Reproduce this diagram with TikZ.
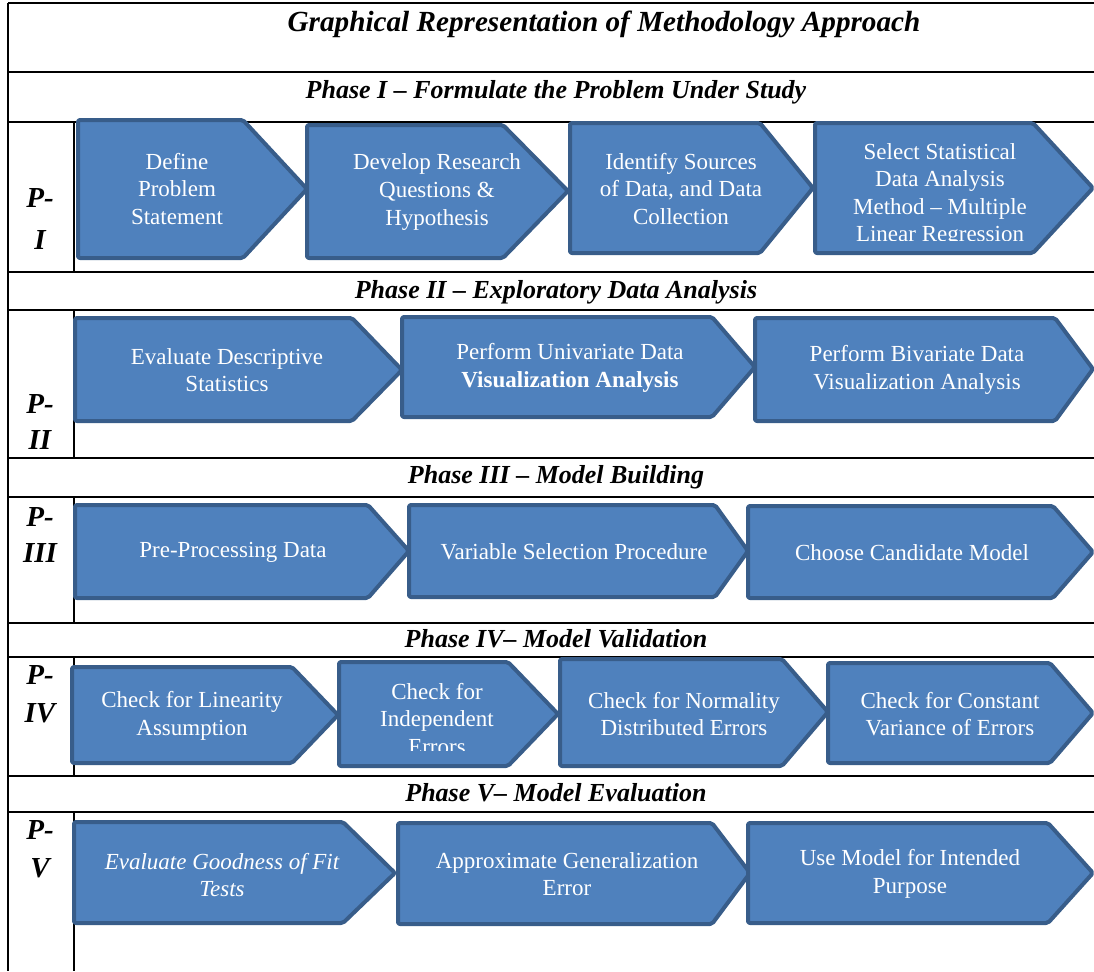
\documentclass[tikz,border=0pt]{standalone}
\usepackage{fontspec}
\setmainfont{Liberation Serif}
\definecolor{boxfill}{HTML}{4F81BD}
\definecolor{boxedge}{HTML}{385D8A}
\begin{document}
\begin{tikzpicture}[x=0.5pt, y=-0.5pt,
    chev/.style = {draw = boxedge, fill = boxfill, line width = 2pt, rounded corners = 1pt, line join = round},
    boxtext/.style = {text = white, align = center, inner sep = 0pt, font = \fontsize{11.5}{13.8}\selectfont},
    phase/.style = {anchor = base, inner sep = 0pt, font = \fontsize{13}{15}\selectfont\bfseries\itshape},
    plabel/.style = {align = center, inner sep = 0pt, font = \fontsize{14.5}{18}\selectfont\bfseries\itshape},
    rule/.style = {line width = 1.3pt}]
    \useasboundingbox (0,0) rectangle (1094,971);
    % table rules
    \begin{scope}[style = rule]
        \draw (8,3) -- (1094,3);
        \draw (8,3) -- (8,971);
        \foreach \y in {72,122,272,310,458,497,623,657,776,812}
            \draw (8,\y) -- (1094,\y);
        \draw (74,122) -- (74,272);
        \draw (74,310) -- (74,458);
        \draw (74,497) -- (74,623);
        \draw (74,657) -- (74,776);
        \draw (74,812) -- (74,971);
    \end{scope}
    % headings
    \node[phase, font = \fontsize{14.6}{17}\selectfont\bfseries\itshape] (title) at (604,31) {Graphical Representation of Methodology Approach};
    \node[phase] (h1) at (556,98) {Phase I -- Formulate the Problem Under Study};
    \node[phase] (h2) at (556,298) {Phase II -- Exploratory Data Analysis};
    \node[phase] (h3) at (556,483) {Phase III -- Model Building};
    \node[phase] (h4) at (556,647) {Phase IV-- Model Validation};
    \node[phase] (h5) at (556,801) {Phase V-- Model Evaluation};
    \node[plabel] (p1) at (40,219) {P-\\[3pt]I};
    \node[plabel] (p2) at (40,422) {P-\\II};
    \node[plabel] (p3) at (40,535) {P-\\III};
    \node[plabel] (p4) at (40,694) {P-\\[1pt]IV};
    \node[plabel] (p5) at (40,849) {P-\\[1pt]V};
    % phase I
    \draw[chev] (78,120) -- (243,120) -- (307,189) -- (243,258) -- (78,258) -- cycle;
    \draw[chev] (307,125) -- (503,125) -- (568,191) -- (503,258) -- (307,258) -- cycle;
    \draw[chev] (570,123) -- (760,123) -- (813,188) -- (760,253) -- (570,253) -- cycle;
    \draw[chev] (815,123) -- (1033,123) -- (1093,188) -- (1033,253) -- (815,253) -- cycle;
    \node[boxtext] (a1) at (177,189) {Define\\Problem\\Statement};
    \node[boxtext] (a2) at (437,192) {Develop Research\\Questions \&\\Hypothesis};
    \node[boxtext] (a3) at (681,189) {Identify Sources\\of Data, and Data\\Collection};
    \begin{scope}
        \clip (815,123) rectangle (1094,240);
        \node[boxtext] (a4) at (940,195) {Select Statistical\\Data Analysis\\Method -- Multiple\\Linear Regression};
    \end{scope}
    % phase II
    \draw[chev] (75,318) -- (352,318) -- (402,370) -- (352,421) -- (75,421) -- cycle;
    \draw[chev] (402,317) -- (712,317) -- (755,367) -- (712,417) -- (402,417) -- cycle;
    \draw[chev] (755,318) -- (1055,318) -- (1093,369) -- (1055,421) -- (755,421) -- cycle;
    \node[boxtext] (b1) at (227,370) {Evaluate Descriptive\\Statistics};
    \node[boxtext] (b2) at (570,368) {Perform Univariate Data\\\textbf{Visualization Analysis}};
    \node[boxtext] (b3) at (917,370) {Perform Bivariate Data\\Visualization Analysis};
    % phase III
    \draw[chev] (75,505) -- (368,505) -- (409,551) -- (368,598) -- (75,598) -- cycle;
    \draw[chev] (409,505) -- (715,505) -- (748,551) -- (715,597) -- (409,597) -- cycle;
    \draw[chev] (748,506) -- (1053,506) -- (1093,552) -- (1053,598) -- (748,598) -- cycle;
    \node[boxtext] (c1) at (233,552) {Pre-Processing Data};
    \node[boxtext] (c2) at (574,552) {Variable Selection Procedure};
    \node[boxtext] (c3) at (912,553) {Choose Candidate Model};
    % phase IV
    \draw[chev] (72,667) -- (292,667) -- (338,715) -- (292,763) -- (72,763) -- cycle;
    \draw[chev] (339,662) -- (508,662) -- (558,714) -- (508,766) -- (339,766) -- cycle;
    \draw[chev] (560,659) -- (782,659) -- (828,712) -- (782,766) -- (560,766) -- cycle;
    \draw[chev] (828,663) -- (1050,663) -- (1093,713) -- (1050,763) -- (828,763) -- cycle;
    \node[boxtext] (d1) at (192,716) {Check for Linearity\\Assumption};
    \begin{scope}
        \clip (339,662) rectangle (558,750);
        \node[boxtext] (d2) at (437,719) {Check for\\Independent\\Errors};
    \end{scope}
    \node[boxtext] (d3) at (684,714) {Check for Normality\\Distributed Errors};
    \node[boxtext] (d4) at (950,714) {Check for Constant\\Variance of Errors};
    % phase V
    \draw[chev] (74,822) -- (343,822) -- (395,873) -- (343,923) -- (74,923) -- cycle;
    \draw[chev] (398,823) -- (712,823) -- (750,873) -- (712,924) -- (398,924) -- cycle;
    \draw[chev] (748,823) -- (1048,823) -- (1093,873) -- (1048,923) -- (748,923) -- cycle;
    \node[boxtext, font = \fontsize{11.5}{13.8}\selectfont\itshape] (e1) at (222,875) {Evaluate Goodness of Fit\\Tests};
    \node[boxtext] (e2) at (567,874) {Approximate Generalization\\Error};
    \node[boxtext] (e3) at (910,874) {Use Model for Intended\\Purpose};
\end{tikzpicture}
\end{document}
